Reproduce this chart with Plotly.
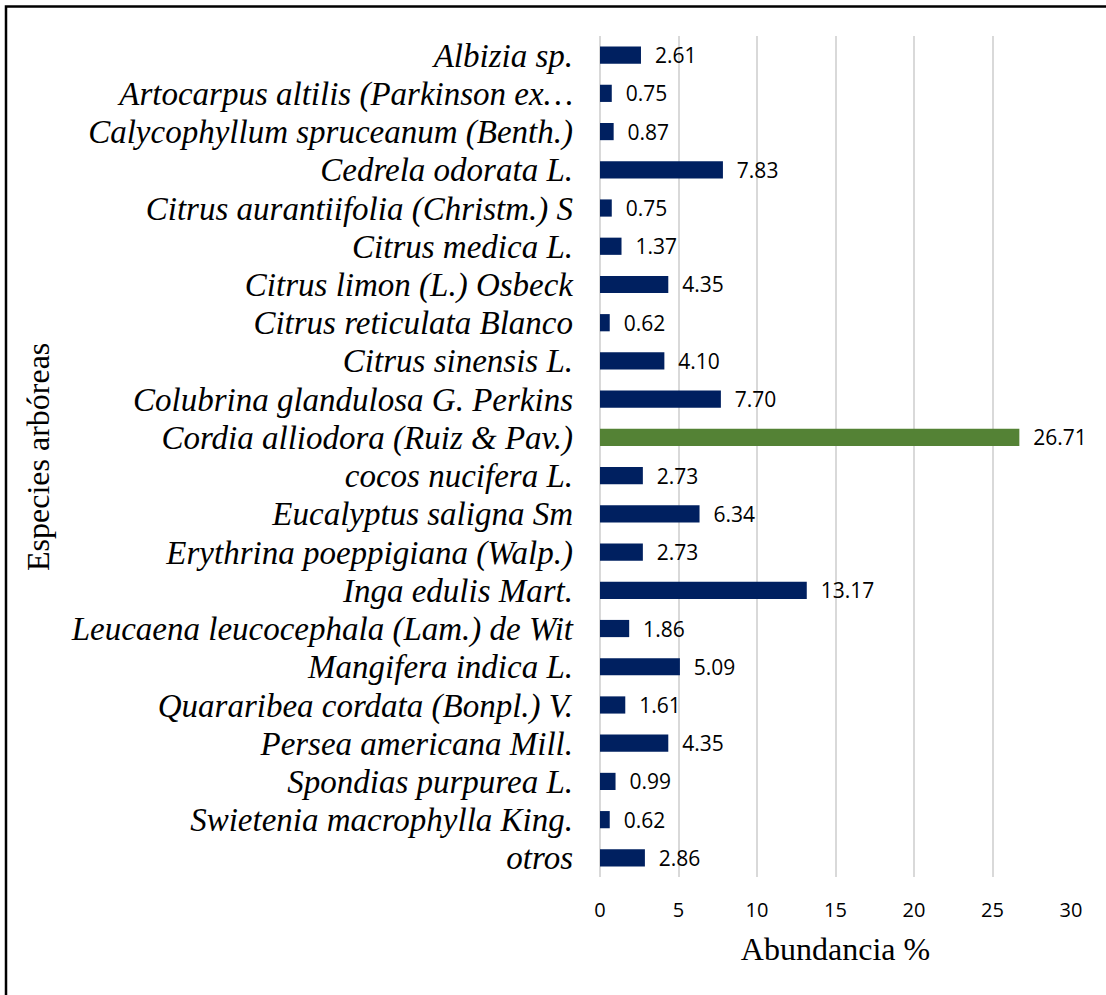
import plotly.graph_objects as go

species = [
    "Albizia sp.",
    "Artocarpus altilis (Parkinson ex…",
    "Calycophyllum spruceanum (Benth.)",
    "Cedrela odorata L.",
    "Citrus aurantiifolia (Christm.) S",
    "Citrus medica L.",
    "Citrus limon (L.) Osbeck",
    "Citrus reticulata Blanco",
    "Citrus sinensis L.",
    "Colubrina glandulosa G. Perkins",
    "Cordia alliodora (Ruiz & Pav.)",
    "cocos nucifera L.",
    "Eucalyptus saligna Sm",
    "Erythrina poeppigiana (Walp.)",
    "Inga edulis Mart.",
    "Leucaena leucocephala (Lam.) de Wit",
    "Mangifera indica L.",
    "Quararibea cordata (Bonpl.) V.",
    "Persea americana Mill.",
    "Spondias purpurea L.",
    "Swietenia macrophylla King.",
    "otros",
]
abundance = [2.61, 0.75, 0.87, 7.83, 0.75, 1.37, 4.35, 0.62, 4.10, 7.70, 26.71,
             2.73, 6.34, 2.73, 13.17, 1.86, 5.09, 1.61, 4.35, 0.99, 0.62, 2.86]
x_ticks = [0, 5, 10, 15, 20, 25, 30]
highlight = "Cordia alliodora (Ruiz & Pav.)"

NAVY = "#002060"
GREEN = "#548235"
colors = [GREEN if s == highlight else NAVY for s in species]

fig = go.Figure()
fig.add_trace(go.Bar(
    y=species, x=abundance, orientation="h",
    marker=dict(color=colors, line=dict(width=0)),
    width=0.45,
    text=["  " + f"{v:.2f}" for v in abundance],
    textposition="outside",
    textfont=dict(family="Open Sans", size=21, color="#000000"),
    constraintext="none",
    cliponaxis=False,
    showlegend=False,
))

fig.update_layout(
    width=1106, height=995,
    margin=dict(l=600, r=35, t=36, b=118, autoexpand=False),
    paper_bgcolor="white", plot_bgcolor="white",
    uniformtext=dict(mode=False),
    xaxis=dict(
        range=[0, 30], tickmode="array", tickvals=x_ticks, ticktext=[str(t) for t in x_ticks],
        showgrid=True, gridcolor="#d9d9d9", gridwidth=1.5,
        zeroline=True, zerolinecolor="#d9d9d9", zerolinewidth=1.5,
        showline=False, ticks="",
        tickfont=dict(family="Open Sans", size=20, color="#000000"),
        ticklabelstandoff=19,
        title=dict(text="Abundancia %", font=dict(family="Liberation Serif", size=32, color="#000000"),
                   standoff=15),
    ),
    yaxis=dict(
        type="category",
        categoryorder="array", categoryarray=species, autorange="reversed",
        tickmode="array", tickvals=species, ticktext=species,
        showgrid=False, showline=False, ticks="", zeroline=False,
        tickfont=dict(family="Liberation Serif", size=33, color="#000000", style="italic"),
        ticklabelstandoff=26,
    ),
    shapes=[dict(type="rect", xref="paper", yref="paper",
                 x0=(6 - 600) / 471, x1=2.0, y0=-1.0, y1=(877 - 6.5) / 841,
                 line=dict(color="#000000", width=2.5), layer="above")],
    annotations=[dict(text="Especies arbóreas", xref="paper", yref="paper",
                      x=(38 - 600) / 471, y=(877 - 457) / 841, showarrow=False,
                      textangle=-90, font=dict(family="Liberation Serif", size=32, color="#000000"),
                      xanchor="center", yanchor="middle")],
)

fig.write_html("out.html")
